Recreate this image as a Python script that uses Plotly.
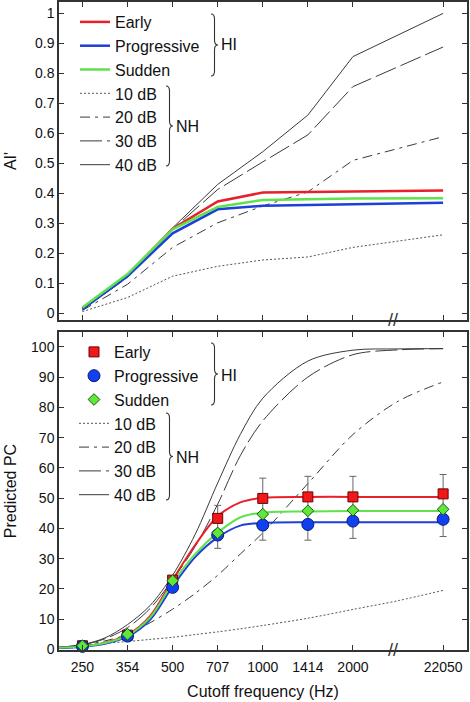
import plotly.graph_objects as go

# ---------------- data ----------------
freq_labels = ["250", "354", "500", "707", "1000", "1414", "2000", "22050"]
freq_pos = [0, 1, 2, 3, 4, 5, 6, 8]          # index positions on the broken axis

# Top panel: AI'
ai_early = [0.017, 0.127, 0.282, 0.373, 0.403, 0.405, 0.406, 0.410]
ai_progressive = [0.015, 0.124, 0.267, 0.347, 0.359, 0.362, 0.365, 0.369]
ai_sudden = [0.020, 0.131, 0.280, 0.355, 0.378, 0.381, 0.383, 0.384]
ai_nh10 = [0.006, 0.053, 0.124, 0.157, 0.178, 0.188, 0.220, 0.262]
ai_nh20 = [0.010, 0.097, 0.220, 0.302, 0.358, 0.405, 0.510, 0.589]
ai_nh30 = [0.012, 0.120, 0.280, 0.413, 0.505, 0.595, 0.756, 0.888]
ai_nh40 = [0.012, 0.123, 0.285, 0.430, 0.539, 0.661, 0.856, 1.000]

# Bottom panel: predicted PC (measured points)
pc_early = [1.2, 4.7, 22.9, 43.3, 49.9, 50.4, 50.4, 51.4]
pc_progressive = [1.0, 4.4, 20.5, 37.8, 41.1, 41.3, 42.4, 43.0]
pc_sudden = [1.2, 5.0, 22.7, 38.5, 44.7, 45.8, 46.0, 46.3]
pc_err_upper = [None, None, None, 47.6, 56.6, 57.2, 57.2, 57.8]
pc_err_lower = [None, None, None, 33.4, 36.1, 36.1, 36.7, 37.3]

# Bottom panel: fitted / model curves (read at these axis positions)
curve_pos = [-0.55, 0, 0.5, 1, 1.5, 2, 2.5, 3, 3.5, 4, 5, 6, 7, 8]
fit_early = [0.5, 1.0, 2.2, 4.8, 11.0, 23.0, 34.5, 44.0, 48.6, 50.1, 50.4, 50.4, 50.4, 50.4]
fit_progressive = [0.4, 0.9, 1.9, 4.2, 9.8, 20.8, 30.5, 37.0, 40.9, 41.8, 42.0, 42.0, 42.0, 42.0]
fit_sudden = [0.5, 1.0, 2.1, 4.6, 10.5, 22.0, 31.5, 38.6, 43.6, 45.2, 45.6, 45.7, 45.7, 45.7]
pc_nh10 = [0.6, 1.3, 2.0, 2.6, 3.3, 4.0, 4.9, 5.8, 6.8, 7.9, 10.3, 13.2, 16.1, 19.5]
pc_nh20 = [0.6, 1.4, 2.8, 5.0, 8.8, 13.3, 18.5, 24.5, 31.5, 38.5, 54.8, 71.0, 82.0, 88.4]
pc_nh30 = [0.7, 1.5, 3.5, 7.2, 13.5, 23.0, 34.0, 48.0, 64.0, 75.5, 90.0, 97.4, 99.0, 99.4]
pc_nh40 = [0.7, 1.6, 3.8, 8.2, 14.5, 24.5, 38.0, 55.0, 71.0, 83.0, 95.3, 98.9, 99.3, 99.4]

# ---------------- styles ----------------
FONT = "Liberation Sans, Arial, Helvetica, sans-serif"
RED, BLUE, GREEN = "#e8202a", "#1e3fd8", "#5fe24c"
NHC = "#3a3a3a"
DASH = {"10 dB": "2px,2px", "20 dB": "10px,5px,3px,5px", "30 dB": "22px,5px", "40 dB": "solid"}

fig = go.Figure()

# ---------------- top panel ----------------
for name, vals in [("10 dB", ai_nh10), ("20 dB", ai_nh20), ("30 dB", ai_nh30), ("40 dB", ai_nh40)]:
    fig.add_trace(go.Scatter(x=freq_pos, y=vals, mode="lines", name=name,
                             line=dict(color=NHC if name != "10 dB" else "#555555", width=1, dash=DASH[name]),
                             legend="legend", legendrank=10 + int(name.split()[0]),
                             xaxis="x", yaxis="y"))
for i, (name, vals, col) in enumerate([("Early", ai_early, RED), ("Progressive", ai_progressive, BLUE),
                                       ("Sudden", ai_sudden, GREEN)]):
    fig.add_trace(go.Scatter(x=freq_pos, y=vals, mode="lines", name=name,
                             line=dict(color=col, width=2.5), legend="legend", legendrank=i + 1,
                             xaxis="x", yaxis="y"))

# ---------------- bottom panel ----------------
for name, vals in [("10 dB", pc_nh10), ("20 dB", pc_nh20), ("30 dB", pc_nh30), ("40 dB", pc_nh40)]:
    fig.add_trace(go.Scatter(x=curve_pos, y=vals, mode="lines", name=name,
                             line=dict(color=NHC if name != "10 dB" else "#555555", width=1,
                                       dash=DASH[name], shape="spline", smoothing=0.9),
                             legend="legend2", legendrank=10 + int(name.split()[0]),
                             xaxis="x2", yaxis="y2"))
for name, vals, col in [("Early", fit_early, RED), ("Progressive", fit_progressive, BLUE),
                        ("Sudden", fit_sudden, GREEN)]:
    fig.add_trace(go.Scatter(x=curve_pos, y=vals, mode="lines", showlegend=False,
                             line=dict(color=col, width=2, shape="spline", smoothing=0.9),
                             xaxis="x2", yaxis="y2"))

err_mid = [None if u is None else (u + l) / 2 for u, l in zip(pc_err_upper, pc_err_lower)]
err_half = [None if u is None else (u - l) / 2 for u, l in zip(pc_err_upper, pc_err_lower)]
fig.add_trace(go.Scatter(x=freq_pos, y=err_mid, mode="markers", showlegend=False,
                         marker=dict(size=1, opacity=0),
                         error_y=dict(type="data", array=err_half, symmetric=True,
                                      color="#666666", thickness=1, width=3.5),
                         xaxis="x2", yaxis="y2", hoverinfo="skip"))

for i, (name, vals, col, sym, size, edge) in enumerate([
        ("Early", pc_early, "#f01818", "square", 10, "#700000"),
        ("Progressive", pc_progressive, "#1040f0", "circle", 12, "#0a1a70"),
        ("Sudden", pc_sudden, "#5ee83c", "diamond", 9, "#1a5a10")]):
    fig.add_trace(go.Scatter(x=freq_pos, y=vals, mode="markers", name=name,
                             marker=dict(symbol=sym, size=size, color=col, line=dict(color=edge, width=1)),
                             cliponaxis=False, legend="legend2", legendrank=i + 1,
                             xaxis="x2", yaxis="y2"))

# ---------------- layout ----------------
W, H = 470, 702
ML, MR, MT, MB = 59, 3, 2, 52
PW, PH = W - ML - MR, H - MT - MB


def px2paper(px, py):
    return (px - ML) / PW, (H - MB - py) / PH


def brace(x0, yt, yb, w=7, r=5):
    ym = (yt + yb) / 2
    xs, xt = x0 + w / 2, x0 + w
    pts = [("M", [(x0, yt)]), ("Q", [(xs, yt), (xs, yt + r)]), ("L", [(xs, ym - r)]),
           ("Q", [(xs, ym), (xt, ym)]), ("Q", [(xs, ym), (xs, ym + r)]), ("L", [(xs, yb - r)]),
           ("Q", [(xs, yb), (x0, yb)])]
    s = ""
    for cmd, pl in pts:
        s += cmd + " " + " ".join("%.5f,%.5f" % px2paper(a, b) for a, b in pl) + " "
    return dict(type="path", path=s.strip(), xref="paper", yref="paper",
                line=dict(color="#333333", width=1.1))


axis_common = dict(showline=True, linecolor="#333333", linewidth=1.5, mirror="ticks",
                   ticks="inside", ticklen=5, tickwidth=1.2, tickcolor="#333333",
                   showgrid=False, zeroline=False, automargin=False,
                   tickfont=dict(size=14, color="#111111"))

top_dom = [px2paper(0, 320)[1], 1]
bot_dom = [0, px2paper(0, 332)[1]]

fig.update_layout(
    template="none",
    width=W, height=H, margin=dict(l=ML, r=MR, t=MT, b=MB, autoexpand=False),
    paper_bgcolor="white", plot_bgcolor="white",
    font=dict(family=FONT, size=14, color="#111111"),
    xaxis=dict(axis_common, domain=[0, 1], anchor="y", range=[-0.52, 8.53],
               tickvals=freq_pos, ticktext=freq_labels, showticklabels=False),
    yaxis=dict(axis_common, domain=top_dom, anchor="x", range=[-0.022, 1.038],
               tickvals=[i / 10 for i in range(11)],
               ticktext=["0"] + ["0.%d" % i for i in range(1, 10)] + ["1"],
               title=dict(text="AI'", font=dict(size=16), standoff=14)),
    xaxis2=dict(axis_common, domain=[0, 1], anchor="y2", range=[-0.52, 8.53],
                tickvals=freq_pos, ticktext=freq_labels, ticklabelstandoff=3,
                title=dict(text="Cutoff frequency (Hz)", font=dict(size=16), standoff=12)),
    yaxis2=dict(axis_common, domain=bot_dom, anchor="x2", range=[-0.2, 104.9],
                tickvals=list(range(0, 101, 10)),
                title=dict(text="Predicted PC", font=dict(size=16), standoff=10)),
    legend=dict(x=px2paper(75, 0)[0], y=px2paper(0, 5)[1], xanchor="left", yanchor="top",
                bgcolor="rgba(0,0,0,0)", font=dict(size=16), tracegroupgap=0, itemwidth=30),
    legend2=dict(x=px2paper(74, 0)[0], y=px2paper(0, 335)[1], xanchor="left", yanchor="top",
                 bgcolor="rgba(0,0,0,0)", font=dict(size=16), tracegroupgap=0, itemwidth=30),
    showlegend=True,
)

shapes = [brace(211, 14, 76), brace(166, 86, 166), brace(211, 343, 405), brace(166, 413, 500)]
fig.update_layout(shapes=shapes)

annots = []
for txt, px, py in [("HI", 219, 45), ("NH", 174, 127), ("HI", 219, 375), ("NH", 174, 457)]:
    xp, yp = px2paper(px, py)
    annots.append(dict(text=txt, x=xp, y=yp, xref="paper", yref="paper", xanchor="left",
                       yanchor="middle", showarrow=False, font=dict(size=16, color="#111111")))
# axis-break marks
for xa, ya in [("x", "y domain"), ("x2", "y2 domain")]:
    annots.append(dict(text="//", x=6.88, y=0, xref=xa, yref=ya, xanchor="center", yanchor="middle",
                       showarrow=False, font=dict(size=18, color="#333333")))
fig.update_layout(annotations=annots)

fig.write_html("out.html", config={"displayModeBar": False},
               post_script="document.body.style.margin='0';document.body.style.padding='0';")
